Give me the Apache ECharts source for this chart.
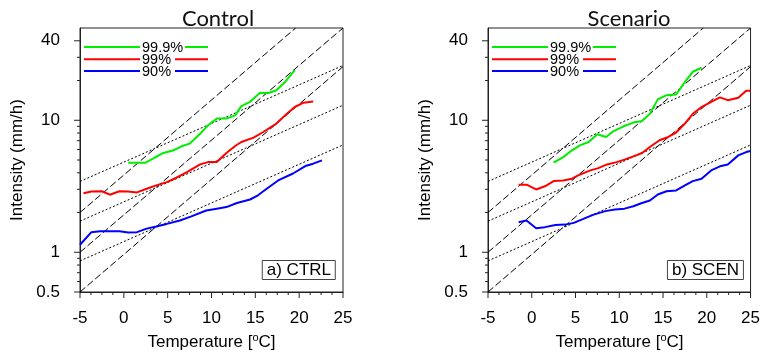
<!DOCTYPE html>
<html><head><meta charset="utf-8">
<script src="https://cdn.jsdelivr.net/npm/echarts@6/dist/echarts.min.js"></script>
<style>html,body{margin:0;padding:0;background:#fff}#c{width:763px;height:353px}</style>
</head><body><div id="c"></div>
<script>
// ---- data ----
const panelTitles = ['Control', 'Scenario'];
const panelTags = ['a) CTRL', 'b) SCEN'];
const legendNames = ['99.9%', '99%', '90%'];
const seriesColors = ['#00ee00', '#ff0000', '#0000ff'];
const xAxisTitle = 'Temperature [{s|o}C]';
const yAxisTitle = 'Intensity (mm/h)';

const xMajorTicks = [-5, 0, 5, 10, 15, 20, 25];
const xMinorTicks = [-3.75, -2.5, -1.25, 1.25, 2.5, 3.75, 6.25, 7.5, 8.75, 11.25, 12.5, 13.75, 16.25, 17.5, 18.75, 21.25, 22.5, 23.75];
const yMajorTicks = [0.5, 1, 10, 40];
const yMinorTicks = [0.6, 0.7, 0.8, 0.9, 2, 3, 4, 5, 6, 7, 8, 9, 20, 30];

// reference scaling lines (start at T=-5, end where they leave the frame)
const dashedStartT = [-5, -5, -5];
const dashedStartV = [0.5, 1, 2];
const dashedEndT = [25, 25, 19.6];
const dashedEndV = [25.5, 50, 50];
const dottedStartT = [-5, -5, -5];
const dottedStartV = [0.86, 1.72, 3.44];
const dottedEndT = [25, 25, 25];
const dottedEndV = [6.5, 13, 26];

// Control
const ctrlGreenT = [0.5,1.5,2.5,3.5,4.5,5.6,6.6,7.5,8.7,9.6,10.6,11.7,12.7,13.4,14.4,15.5,16.5,17.4,18.4,19.5];
const ctrlGreenV = [4.77,4.77,4.77,5.2,5.65,5.9,6.35,6.65,7.9,9.15,10.3,10.3,10.9,12.8,13.8,16.1,16.1,16.9,19.5,24];
const ctrlRedT = [-4.6,-3.7,-2.5,-1.6,-0.5,0.5,1.5,2.6,3.7,4.9,6.0,7.2,8.7,9.6,10.6,11.7,12.7,13.4,14.8,15.9,17.4,18.6,19.5,20.5,21.6];
const ctrlRedV = [2.8,2.89,2.9,2.73,2.9,2.89,2.84,3.03,3.21,3.4,3.67,4.05,4.63,4.82,4.82,5.65,6.38,6.84,7.39,8.15,9.44,11.2,12.6,13.6,13.9];
const ctrlBlueT = [-5,-3.7,-2.7,-1.6,-0.5,0.5,1.5,2.6,3.7,4.9,6.4,7.7,9.4,10.6,11.7,12.9,14.4,15.3,16.3,17.6,19.3,20.7,21.6,22.6];
const ctrlBlueV = [1.14,1.42,1.44,1.44,1.44,1.41,1.42,1.51,1.57,1.64,1.74,1.87,2.07,2.14,2.2,2.36,2.51,2.7,3.03,3.5,3.95,4.5,4.69,4.97];

// Scenario
const scenGreenT = [2.5,3.6,4.6,5.5,6.5,7.5,8.5,9.3,10.5,11.6,12.6,13.5,14.4,15.4,16.5,17.5,18.4,19.4];
const scenGreenV = [4.77,5.26,5.92,6.46,6.84,7.83,7.47,8.25,9.0,9.6,9.88,11.2,14.4,15.5,15.7,19.5,23.3,25];
const scenRedT = [-1.5,-0.6,0.5,1.5,2.5,3.6,4.6,5.3,6.7,7.6,8.6,9.7,10.6,11.6,12.6,13.5,14.6,15.6,16.5,17.5,18.4,19.4,20.5,21.5,22.4,23.6,24.5,25];
const scenRedV = [3.25,3.25,2.99,3.16,3.46,3.5,3.61,3.82,4.17,4.34,4.63,4.82,5.03,5.33,5.65,6.27,7.05,7.47,8.07,9.44,11.2,12.6,13.8,14.9,14.2,14.8,16.7,16.7];
const scenBlueT = [-1.5,-0.6,0.5,1.5,2.7,3.8,4.8,5.9,7.0,8.4,9.5,10.6,11.6,12.6,13.5,14.4,15.4,16.5,17.5,18.4,19.4,20.5,21.5,22.4,23.6,24.5,25];
const scenBlueV = [1.69,1.74,1.52,1.55,1.61,1.62,1.67,1.79,1.92,2.05,2.11,2.14,2.23,2.36,2.47,2.74,2.9,2.94,3.21,3.46,3.61,4.17,4.48,4.63,5.42,5.74,5.85];

const panelCurves = [
  [[ctrlGreenT, ctrlGreenV], [ctrlRedT, ctrlRedV], [ctrlBlueT, ctrlBlueV]],
  [[scenGreenT, scenGreenV], [scenRedT, scenRedV], [scenBlueT, scenBlueV]]
];

// ---- layout ----
const FONT = 'Liberation Sans, Arial, sans-serif';
const TICK = '#222';
const grids = [{left: 80, top: 28, width: 263, height: 264}, {left: 488, top: 28, width: 263, height: 264}];
const titleCenters = [213, 624];
const zip = (a, b) => a.map((v, i) => [v, b[i]]);

const option = {
  animation: false,
  backgroundColor: '#fff',
  grid: grids.map(g => Object.assign({show: true, borderColor: '#222', borderWidth: 1}, g)),
  title: [],
  xAxis: [],
  yAxis: [],
  series: [],
  graphic: []
};

function tickSeries(p, data, size, offset) {
  return {type: 'scatter', xAxisIndex: p, yAxisIndex: 2 * p, silent: true, clip: false, z: 6,
    symbol: 'rect', symbolSize: size, symbolOffset: offset, itemStyle: {color: TICK, opacity: 1},
    data: data};
}

grids.forEach((g, p) => {
  option.title.push({text: panelTitles[p], left: titleCenters[p], top: 3, textAlign: 'center',
    textStyle: {fontFamily: 'Lato, sans-serif', fontWeight: 'normal', fontSize: 22, color: '#111'}});
  option.title.push({text: panelTags[p], right: 763 - (g.left + g.width - 7), top: 260,
    borderWidth: 1, borderColor: '#444', padding: [1, 5],
    textStyle: {fontFamily: FONT, fontWeight: 'normal', fontSize: 17, color: '#000', lineHeight: 18}});

  option.xAxis.push({type: 'value', gridIndex: p, min: -5, max: 25, interval: 5,
    axisLine: {show: true, onZero: false, lineStyle: {color: '#222'}},
    axisTick: {show: false}, minorTick: {show: false},
    splitLine: {show: false},
    axisLabel: {fontFamily: FONT, fontSize: 17, color: '#000', margin: 18}
  });
  option.yAxis.push({type: 'log', gridIndex: p, min: 0.5, max: 50, position: 'left',
    axisLine: {show: true, onZero: false, lineStyle: {color: '#222'}},
    axisTick: {show: false},
    splitLine: {show: false},
    axisLabel: {fontFamily: FONT, fontSize: 17, color: '#000', margin: 20, customValues: yMajorTicks}
  });
  option.yAxis.push({type: 'log', gridIndex: p, min: 0.5, max: 50, position: 'left', show: false});

  const xi = p, yi = 2 * p;
  dashedStartV.forEach((s, i) => option.series.push({type: 'line', xAxisIndex: xi, yAxisIndex: yi, symbol: 'none',
    data: [[dashedStartT[i], s], [dashedEndT[i], dashedEndV[i]]], lineStyle: {color: '#000', width: 1, type: [7, 3]}}));
  dottedStartV.forEach((s, i) => option.series.push({type: 'line', xAxisIndex: xi, yAxisIndex: yi, symbol: 'none',
    data: [[dottedStartT[i], s], [dottedEndT[i], dottedEndV[i]]], lineStyle: {color: '#000', width: 1, type: [2, 2]}}));
  panelCurves[p].forEach((c, i) => option.series.push({type: 'line', xAxisIndex: xi, yAxisIndex: yi, symbol: 'none',
    data: zip(c[0], c[1]), lineStyle: {color: seriesColors[i], width: 2}}));

  // outward tick marks, placed through the axes' own scales
  option.series.push(tickSeries(p, yMajorTicks.map(v => [-5, v]), [6, 1], [-3, 0]));
  option.series.push(tickSeries(p, yMinorTicks.map(v => [-5, v]), [3, 1], [-1.5, 0]));
  option.series.push(tickSeries(p, xMajorTicks.map(t => [t, 0.5]), [1, 6], [0, 3]));
  option.series.push(tickSeries(p, xMinorTicks.map(t => [t, 0.5]), [1, 3], [0, 1.5]));

  // axis titles
  option.graphic.push({type: 'text', x: g.left + g.width / 2, y: 342,
    style: {text: xAxisTitle, fontFamily: FONT, fontSize: 17, fill: '#000', textAlign: 'center', textVerticalAlign: 'middle',
      rich: {s: {fontFamily: FONT, fontSize: 11, fill: '#000', verticalAlign: 'top', padding: [0, 0, 8, 0]}}}});
  option.graphic.push({type: 'text', x: g.left - 63, y: g.top + g.height / 2, rotation: Math.PI / 2,
    style: {text: yAxisTitle, fontFamily: FONT, fontSize: 17, fill: '#000', textAlign: 'center', textVerticalAlign: 'middle'}});

  // legend (in-plot)
  const lx0 = g.left + 4, lx1 = g.left + 128, tx = g.left + 62;
  const ly = [47, 59.3, 71];
  const rightGap = [105, 95, 95];
  legendNames.forEach((n, i) => {
    option.graphic.push({type: 'line', shape: {x1: lx0, y1: ly[i], x2: tx - 2, y2: ly[i]}, style: {stroke: seriesColors[i], lineWidth: 2}, z: 10});
    option.graphic.push({type: 'line', shape: {x1: g.left + rightGap[i], y1: ly[i], x2: lx1, y2: ly[i]}, style: {stroke: seriesColors[i], lineWidth: 2}, z: 10});
    option.graphic.push({type: 'text', x: tx, y: ly[i] + 0.5, style: {text: n, fontFamily: FONT, fontSize: 14.5, fill: '#000', textAlign: 'left', textVerticalAlign: 'middle'}, z: 11});
  });
});

const chart = echarts.init(document.getElementById('c'), null, {renderer: 'canvas'});
chart.setOption(option);
</script></body></html>
